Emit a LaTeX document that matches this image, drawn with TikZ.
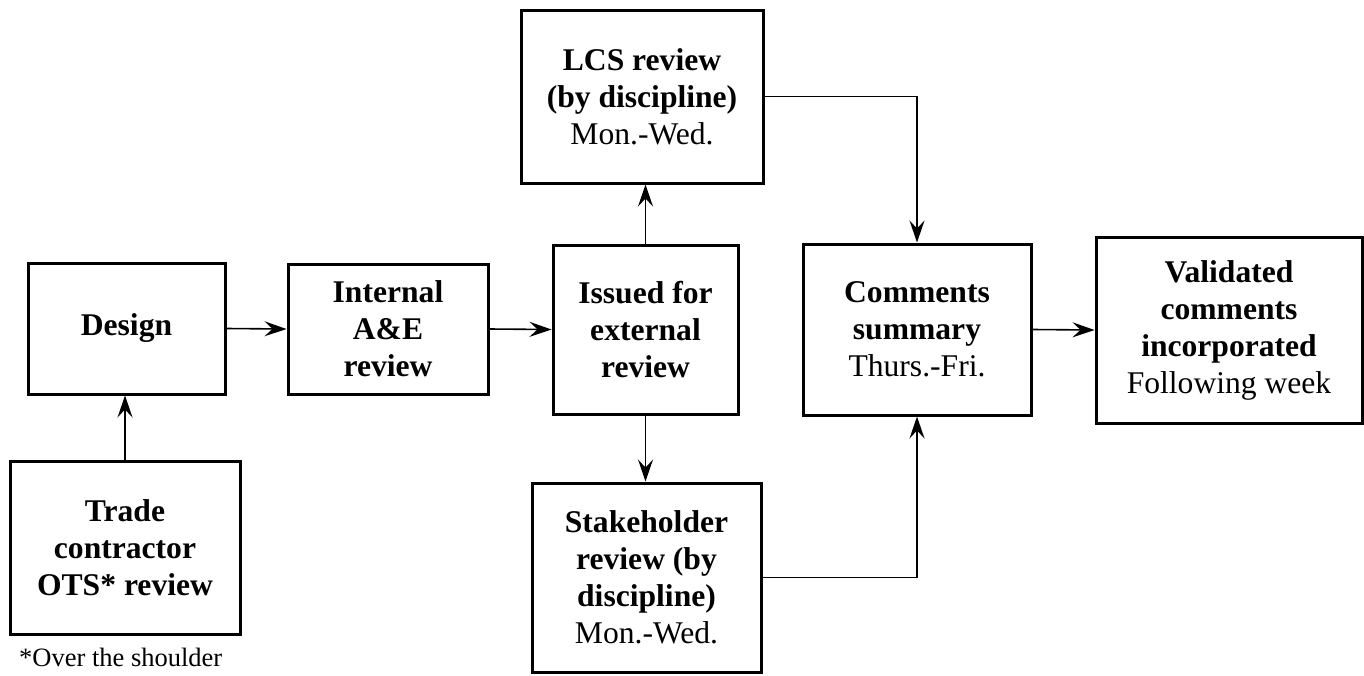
\documentclass[tikz,border=0pt]{standalone}
\usepackage{fontspec}
\setmainfont{Liberation Serif}
\usetikzlibrary{arrows.meta}

\tikzset{
  stagebox/.style={draw, line width=3pt, align=center, inner sep=0pt,
    font=\fontsize{31.6}{37}\selectfont},
  flow/.style={line width=1.6pt, -{Stealth[length=22pt, width=15pt, inset=8pt]}},
  note/.style={font=\fontsize{26.5}{31}\selectfont, inner sep=0pt}
}

\begin{document}
\begin{tikzpicture}[x=1pt, y=-1pt]
  \path[use as bounding box] (0,0) rectangle (1364,675);

  % review stages
  \node[stagebox, minimum width=197pt, minimum height=131pt] (design) at (126.5,328.5)
    {\textbf{Design}};
  \node[stagebox, minimum width=230pt, minimum height=173pt] (trade) at (125,547.5)
    {\textbf{Trade}\\\textbf{contractor}\\\textbf{OTS* review}};
  \node[stagebox, minimum width=200pt, minimum height=130pt] (internal) at (388,329)
    {\textbf{Internal}\\\textbf{A\&E}\\\textbf{review}};
  \node[stagebox, minimum width=185pt, minimum height=169pt] (issued) at (645.5,329.5)
    {\textbf{Issued for}\\\textbf{external}\\\textbf{review}};
  \node[stagebox, minimum width=242pt, minimum height=173pt] (lcs) at (642,96.5)
    {\textbf{LCS review}\\\textbf{(by discipline)}\\Mon.-Wed.};
  \node[stagebox, minimum width=229pt, minimum height=189pt] (stake) at (646.5,577.5)
    {\textbf{Stakeholder}\\\textbf{review (by}\\\textbf{discipline)}\\Mon.-Wed.};
  \node[stagebox, minimum width=228pt, minimum height=171pt] (comments) at (917,329.5)
    {\textbf{Comments}\\\textbf{summary}\\Thurs.-Fri.};
  \node[stagebox, minimum width=266pt, minimum height=186pt] (validated) at (1229,330)
    {\textbf{Validated}\\\textbf{comments}\\\textbf{incorporated}\\Following week};

  % footnote
  \node[note, anchor=west] (foot) at (19,657) {*Over the shoulder};

  % connectors
  \draw[flow] (trade.north) -- (trade.north |- design.south);
  \draw[flow] (design.east) -- (internal.west);
  \draw[flow] (internal.east) -- (issued.west);
  \draw[flow] (issued.north) -- (issued.north |- lcs.south);
  \draw[flow] (issued.south) -- (issued.south |- stake.north);
  \draw[flow] (lcs.east) -| (comments.north);
  \draw[flow] (stake.east) -| (comments.south);
  \draw[flow] (comments.east) -- (validated.west);
\end{tikzpicture}
\end{document}
